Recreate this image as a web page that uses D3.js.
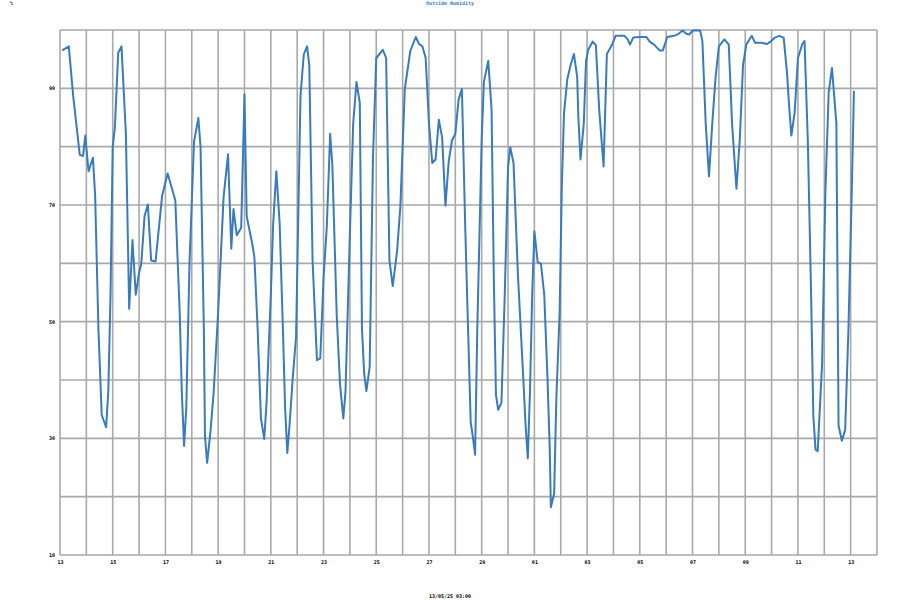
<!DOCTYPE html>
<html><head><meta charset="utf-8">
<script src="https://cdn.jsdelivr.net/npm/d3@7"></script>
<style>body{margin:0;background:#fff}svg{display:block}</style>
</head><body>
<svg id="c" width="900" height="600"></svg>
<script>
const title = "Outside Humidity";
const unitLabel = "%";
const footerLabel = "13/05/25 03:00";
const startDate = "2025-04-13T00:00:00";
const endDate = "2025-05-14T00:00:00";
const yTickLabels = [10, 30, 50, 70, 90];
const yGridValues = [10, 20, 30, 40, 50, 60, 70, 80, 90, 100];
// hours since 13 Apr 00:00
const hoursSinceStart = [2,8,12,18,21,23,26,30,32,35,38,42,44,46,48,50,53,56,60,63,66,69,72,74,77,80,83,87,93,98,102,105,109,111,113,115,118,120,122,126,128,131,132,134,137,140,144,149,153,156,158,161,165,168,
170,175,177,180,183,186,188,192,194,197,200,203,205,207,209,212,215,219,222,225,227,230,234,237,240,243,246,248,252,255,258,260,264,267,270,273,275,277,279,282,285,288,294,297,300,303,307,310,314,319,324,327,330,333,336,339,342,345,348,351,354,357,360,
363,366,369,371,374,376,378,380,384,386,390,393,395,397,399,402,405,408,410,413,417,422,424,426,428,430,432,435,438,441,444,446,447,450,452,455,457,459,462,465,468,471,472,474,477,479,481,485,488,491,495,498,502,506,514,517,519,522,528,534,537,
541,546,549,553,559,563,567,570,573,576,583,585,588,591,594,597,600,605,609,612,616,619,622,625,630,633,639,644,647,651,655,659,662,664,666,669,672,676,678,681,684,686,688,690,694,697,700,703,707,709,712,715,718,721,723];
const humidity = [96.5,97.2,88.7,78.6,78.4,81.9,75.8,78.1,71.6,48.7,34.0,31.9,38.1,54.6,79.9,83.4,96.1,97.2,82.2,52.2,64.0,54.6,58.4,59.9,68.1,70.1,60.5,60.3,71.6,75.4,72.8,70.8,51.6,37.5,28.7,35.2,60.5,70.5,80.8,84.9,79.9,48.7,30.5,25.8,31.1,38.1,51.6,71.4,78.7,62.5,69.3,64.8,66.1,89.0,
68.1,63.4,61.1,48.7,33.4,29.9,35.8,54.6,66.4,75.8,66.9,48.7,35.2,27.5,32.2,40.5,47.5,88.7,95.8,97.2,94.0,60.5,43.4,43.7,57.5,66.4,82.2,76.9,51.1,39.3,33.4,38.1,65.2,84.0,91.1,87.5,48.7,41.1,38.1,42.2,78.1,95.2,96.6,95.2,60.5,56.1,62.2,69.9,89.9,96.4,98.8,97.6,97.2,95.2,84.0,77.2,77.8,84.6,81.6,69.9,77.5,81.1,82.2,
88.1,89.9,66.4,52.8,32.8,30.2,27.2,48.7,81.1,91.1,94.7,86.4,58.1,37.5,34.9,36.1,54.6,76.4,79.9,77.2,58.1,39.9,32.2,26.6,38.1,54.6,65.5,60.2,59.9,54.6,39.9,28.1,18.2,20.5,36.9,51.6,73.4,85.8,91.6,94.0,95.9,91.9,85.2,77.8,84.0,94.6,96.6,98.0,97.4,86.4,76.6,95.9,97.2,99.0,99.0,98.4,97.5,98.7,98.8,98.8,98.0,
97.5,96.5,96.5,98.8,99.0,99.3,99.9,99.4,99.2,99.9,99.9,98.1,84.0,74.9,84.0,91.9,97.2,98.4,97.5,84.0,72.8,81.1,94.0,97.5,99.0,97.8,97.8,97.6,98.0,98.7,99.0,98.7,92.8,86.9,81.9,85.8,95.2,97.6,98.1,81.1,54.6,34.0,28.1,27.8,42.8,72.2,89.3,93.5,84.0,32.2,29.6,31.4,48.7,72.2,89.6];

const svg = d3.select("#c");
const W = 900, H = 600;
const m = {left: 60, top: 30, right: 23, bottom: 45};
const pw = W - m.left - m.right, ph = H - m.top - m.bottom;
const t0 = new Date(startDate), t1 = new Date(endDate);
const x = d3.scaleTime().domain([t0, t1]).range([m.left, m.left + pw]);
const y = d3.scaleLinear().domain([10, 100]).range([m.top + ph, m.top]);
const gridColor = "#a9a9a9";
const font = "'DejaVu Sans Mono', monospace";
const fs = 5;

const data = hoursSinceStart.map((h, i) => ({t: new Date(t0.getTime() + h * 3600e3), v: humidity[i]}));

// grid
const days = d3.timeDay.range(t0, d3.timeDay.offset(t1, 1));
svg.append("g").selectAll("line").data(days).join("line")
  .attr("x1", d => x(d)).attr("x2", d => x(d))
  .attr("y1", m.top).attr("y2", m.top + ph)
  .attr("stroke", gridColor).attr("stroke-width", 1.6);
svg.append("g").selectAll("line").data(yGridValues).join("line")
  .attr("x1", m.left).attr("x2", m.left + pw)
  .attr("y1", d => y(d)).attr("y2", d => y(d))
  .attr("stroke", gridColor).attr("stroke-width", 1.6);

// axes (labels only)
const yAxis = d3.axisLeft(y).tickValues(yTickLabels).tickSize(0).tickPadding(5).tickFormat(d3.format("d"));
const gy = svg.append("g").attr("transform", `translate(${m.left},0)`).call(yAxis);
gy.select(".domain").remove();
gy.selectAll("text").attr("font-family", font).attr("font-size", fs).attr("font-weight", "bold").attr("fill", "#000");

const xTickDates = d3.range(0, 31, 2).map(i => d3.timeDay.offset(t0, i));
const xAxis = d3.axisBottom(x).tickValues(xTickDates).tickSize(0).tickPadding(5).tickFormat(d3.timeFormat("%d"));
const gx = svg.append("g").attr("transform", `translate(0,${m.top + ph})`).call(xAxis);
gx.select(".domain").remove();
gx.selectAll("text").attr("font-family", font).attr("font-size", fs).attr("font-weight", "bold").attr("fill", "#000");

// line
const line = d3.line().x(d => x(d.t)).y(d => y(d.v));
svg.append("path").datum(data).attr("d", line)
  .attr("fill", "none").attr("stroke", "#3a7bbb").attr("stroke-width", 2).attr("stroke-linejoin", "round");

// texts
svg.append("text").attr("x", 450).attr("y", 5).attr("text-anchor", "middle")
  .attr("font-family", font).attr("font-size", fs).attr("font-weight", "bold").attr("fill", "#3a7bbb").text(title);
svg.append("text").attr("x", 10).attr("y", 5).attr("text-anchor", "start")
  .attr("font-family", font).attr("font-size", fs).attr("font-weight", "bold").attr("fill", "#000").text(unitLabel);
svg.append("text").attr("x", 450).attr("y", 598).attr("text-anchor", "middle")
  .attr("font-family", font).attr("font-size", fs).attr("font-weight", "bold").attr("fill", "#000").text(footerLabel);
</script>
</body></html>
